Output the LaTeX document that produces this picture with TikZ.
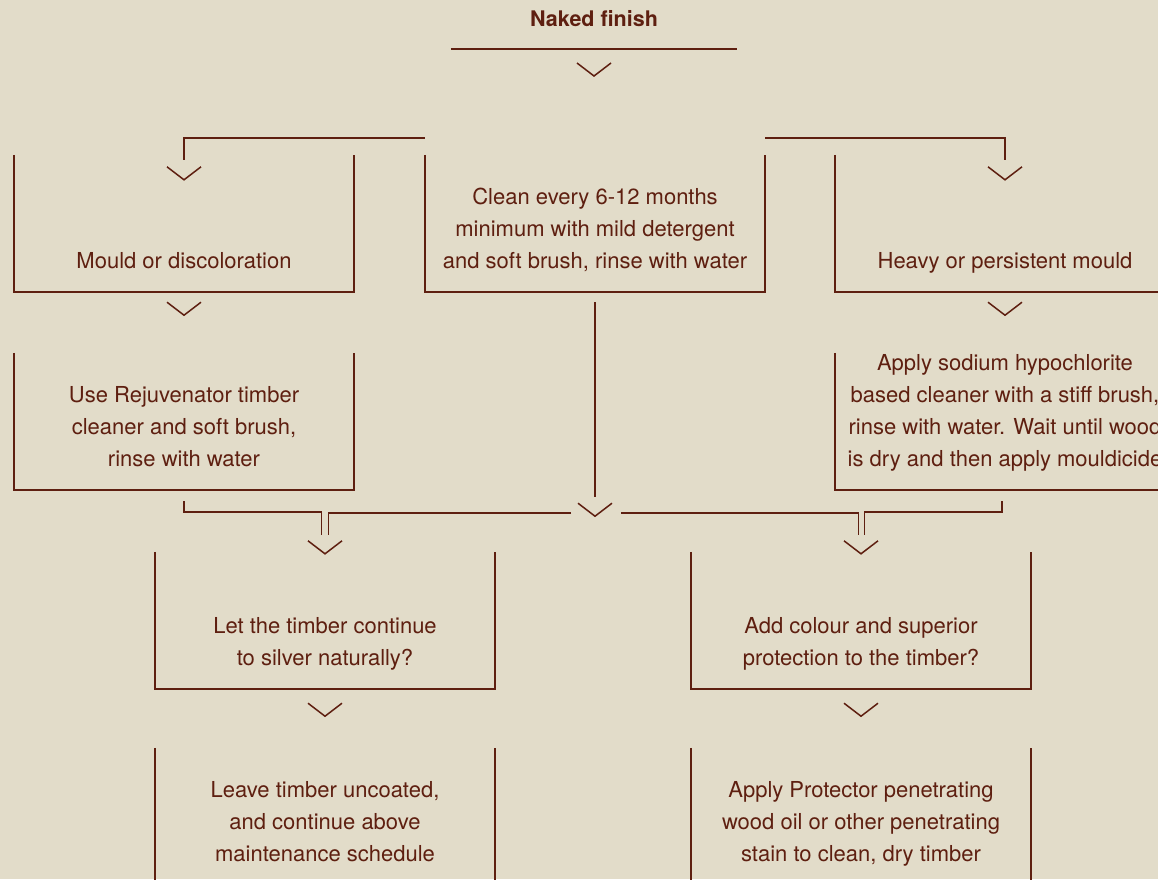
\documentclass[tikz,border=0pt]{standalone}
\usepackage{fontspec}
\setmainfont{TeX Gyre Heros}
\usetikzlibrary{positioning}
\definecolor{paper}{HTML}{E2DCC9}
\definecolor{ink}{HTML}{5E1F10}

\begin{document}
\begin{tikzpicture}[x=1pt,y=-1pt,
  line/.style={draw=ink,line width=1.5pt},
  ubox/.style={minimum width=340pt,minimum height=137pt,inner sep=0pt},
  txt/.style={text=ink,align=center,inner sep=0pt,text depth=0pt,font=\fontsize{22}{32}\selectfont},
  chev/.pic={\draw[line] (-17pt,0pt) -- (0pt,-13pt) -- (17pt,0pt);}]
  \useasboundingbox (0,0) rectangle (1158,879);
  \fill[paper] (0,0) rectangle (1158,879);
  \clip (0,0) rectangle (1158,879);

  \node[txt,anchor=base,font=\bfseries\fontsize{21.5}{26}\selectfont,minimum width=286pt] (title) at (594,26) {Naked finish};
  \draw[line] ([yshift=-23pt]title.base west) -- ([yshift=-23pt]title.base east);

  \node[ubox] (clean) at (595,223.5) {};
  \node[ubox] (mould) at (184,223.5) {};
  \node[ubox] (heavy) at (1005,223.5) {};
  \node[ubox] (rejuv) at (184,421.5) {};
  \node[ubox] (sodium) at (1005,421.5) {};
  \node[ubox] (silver) at (325,620.5) {};
  \node[ubox] (protect) at (861,620.5) {};
  \node[ubox] (leave) at (325,816.5) {};
  \node[ubox] (oil) at (861,816.5) {};
  \foreach \b in {clean,mould,heavy,rejuv,sodium,silver,protect,leave,oil}
    \draw[line] (\b.north west) -- (\b.south west) -- (\b.south east) -- (\b.north east);

  \node[txt,above=24pt of clean.south] (clean-t) {Clean every 6-12 months\\minimum with mild detergent\\and soft brush, rinse with water};
  \node[txt,above=24pt of mould.south] (mould-t) {Mould or discoloration};
  \node[txt,above=24pt of heavy.south] (heavy-t) {Heavy or persistent mould};
  \node[txt,above=24pt of rejuv.south] (rejuv-t) {Use Rejuvenator timber\\cleaner and soft brush,\\rinse with water};
  \node[txt,above=24pt of sodium.south] (sodium-t) {Apply sodium hypochlorite\\based cleaner with a stiff brush,\\rinse with water. Wait until wood\\is dry and then apply mouldicide};
  \node[txt,above=24pt of silver.south] (silver-t) {Let the timber continue\\to silver naturally?};
  \node[txt,above=24pt of protect.south] (protect-t) {Add colour and superior\\protection to the timber?};
  \node[txt,above=24pt of leave.south] (leave-t) {Leave timber uncoated,\\and continue above\\maintenance schedule};
  \node[txt,above=24pt of oil.south] (oil-t) {Apply Protector penetrating\\wood oil or other penetrating\\stain to clean, dry timber};

  \coordinate (hub) at ([yshift=-211pt]clean.south);
  \pic at ([yshift=-37pt]title.base) {chev};
  \pic at ([yshift=-12pt]mould.north) {chev};
  \pic at ([yshift=-12pt]heavy.north) {chev};
  \pic at ([yshift=-10pt]mould.south) {chev};
  \pic at ([yshift=-10pt]heavy.south) {chev};
  \pic at (hub) {chev};
  \pic at ([yshift=11pt]silver.north) {chev};
  \pic at ([yshift=11pt]protect.north) {chev};
  \pic at ([yshift=-14pt]silver.south) {chev};
  \pic at ([yshift=-14pt]protect.south) {chev};

  \draw[line] ([yshift=17pt]clean.north west) -| ([yshift=-5pt]mould.north);
  \draw[line] ([yshift=17pt]clean.north east) -| ([yshift=-5pt]heavy.north);
  \draw[line] ([yshift=-10pt]clean.south) -- ([yshift=6pt]hub);
  \draw[line] ([yshift=-11pt]rejuv.south) -- ++(0pt,-11pt) -| ([xshift=-3.5pt,yshift=17pt]silver.north);
  \draw[line] ([xshift=-24pt,yshift=-10pt]hub) -| ([xshift=3.5pt,yshift=17pt]silver.north);
  \draw[line] ([xshift=26pt,yshift=-10pt]hub) -| ([xshift=-2.5pt,yshift=17pt]protect.north);
  \draw[line] ([xshift=-3pt,yshift=-11pt]sodium.south) -- ++(0pt,-11pt) -| ([xshift=3.5pt,yshift=17pt]protect.north);
\end{tikzpicture}
\end{document}
